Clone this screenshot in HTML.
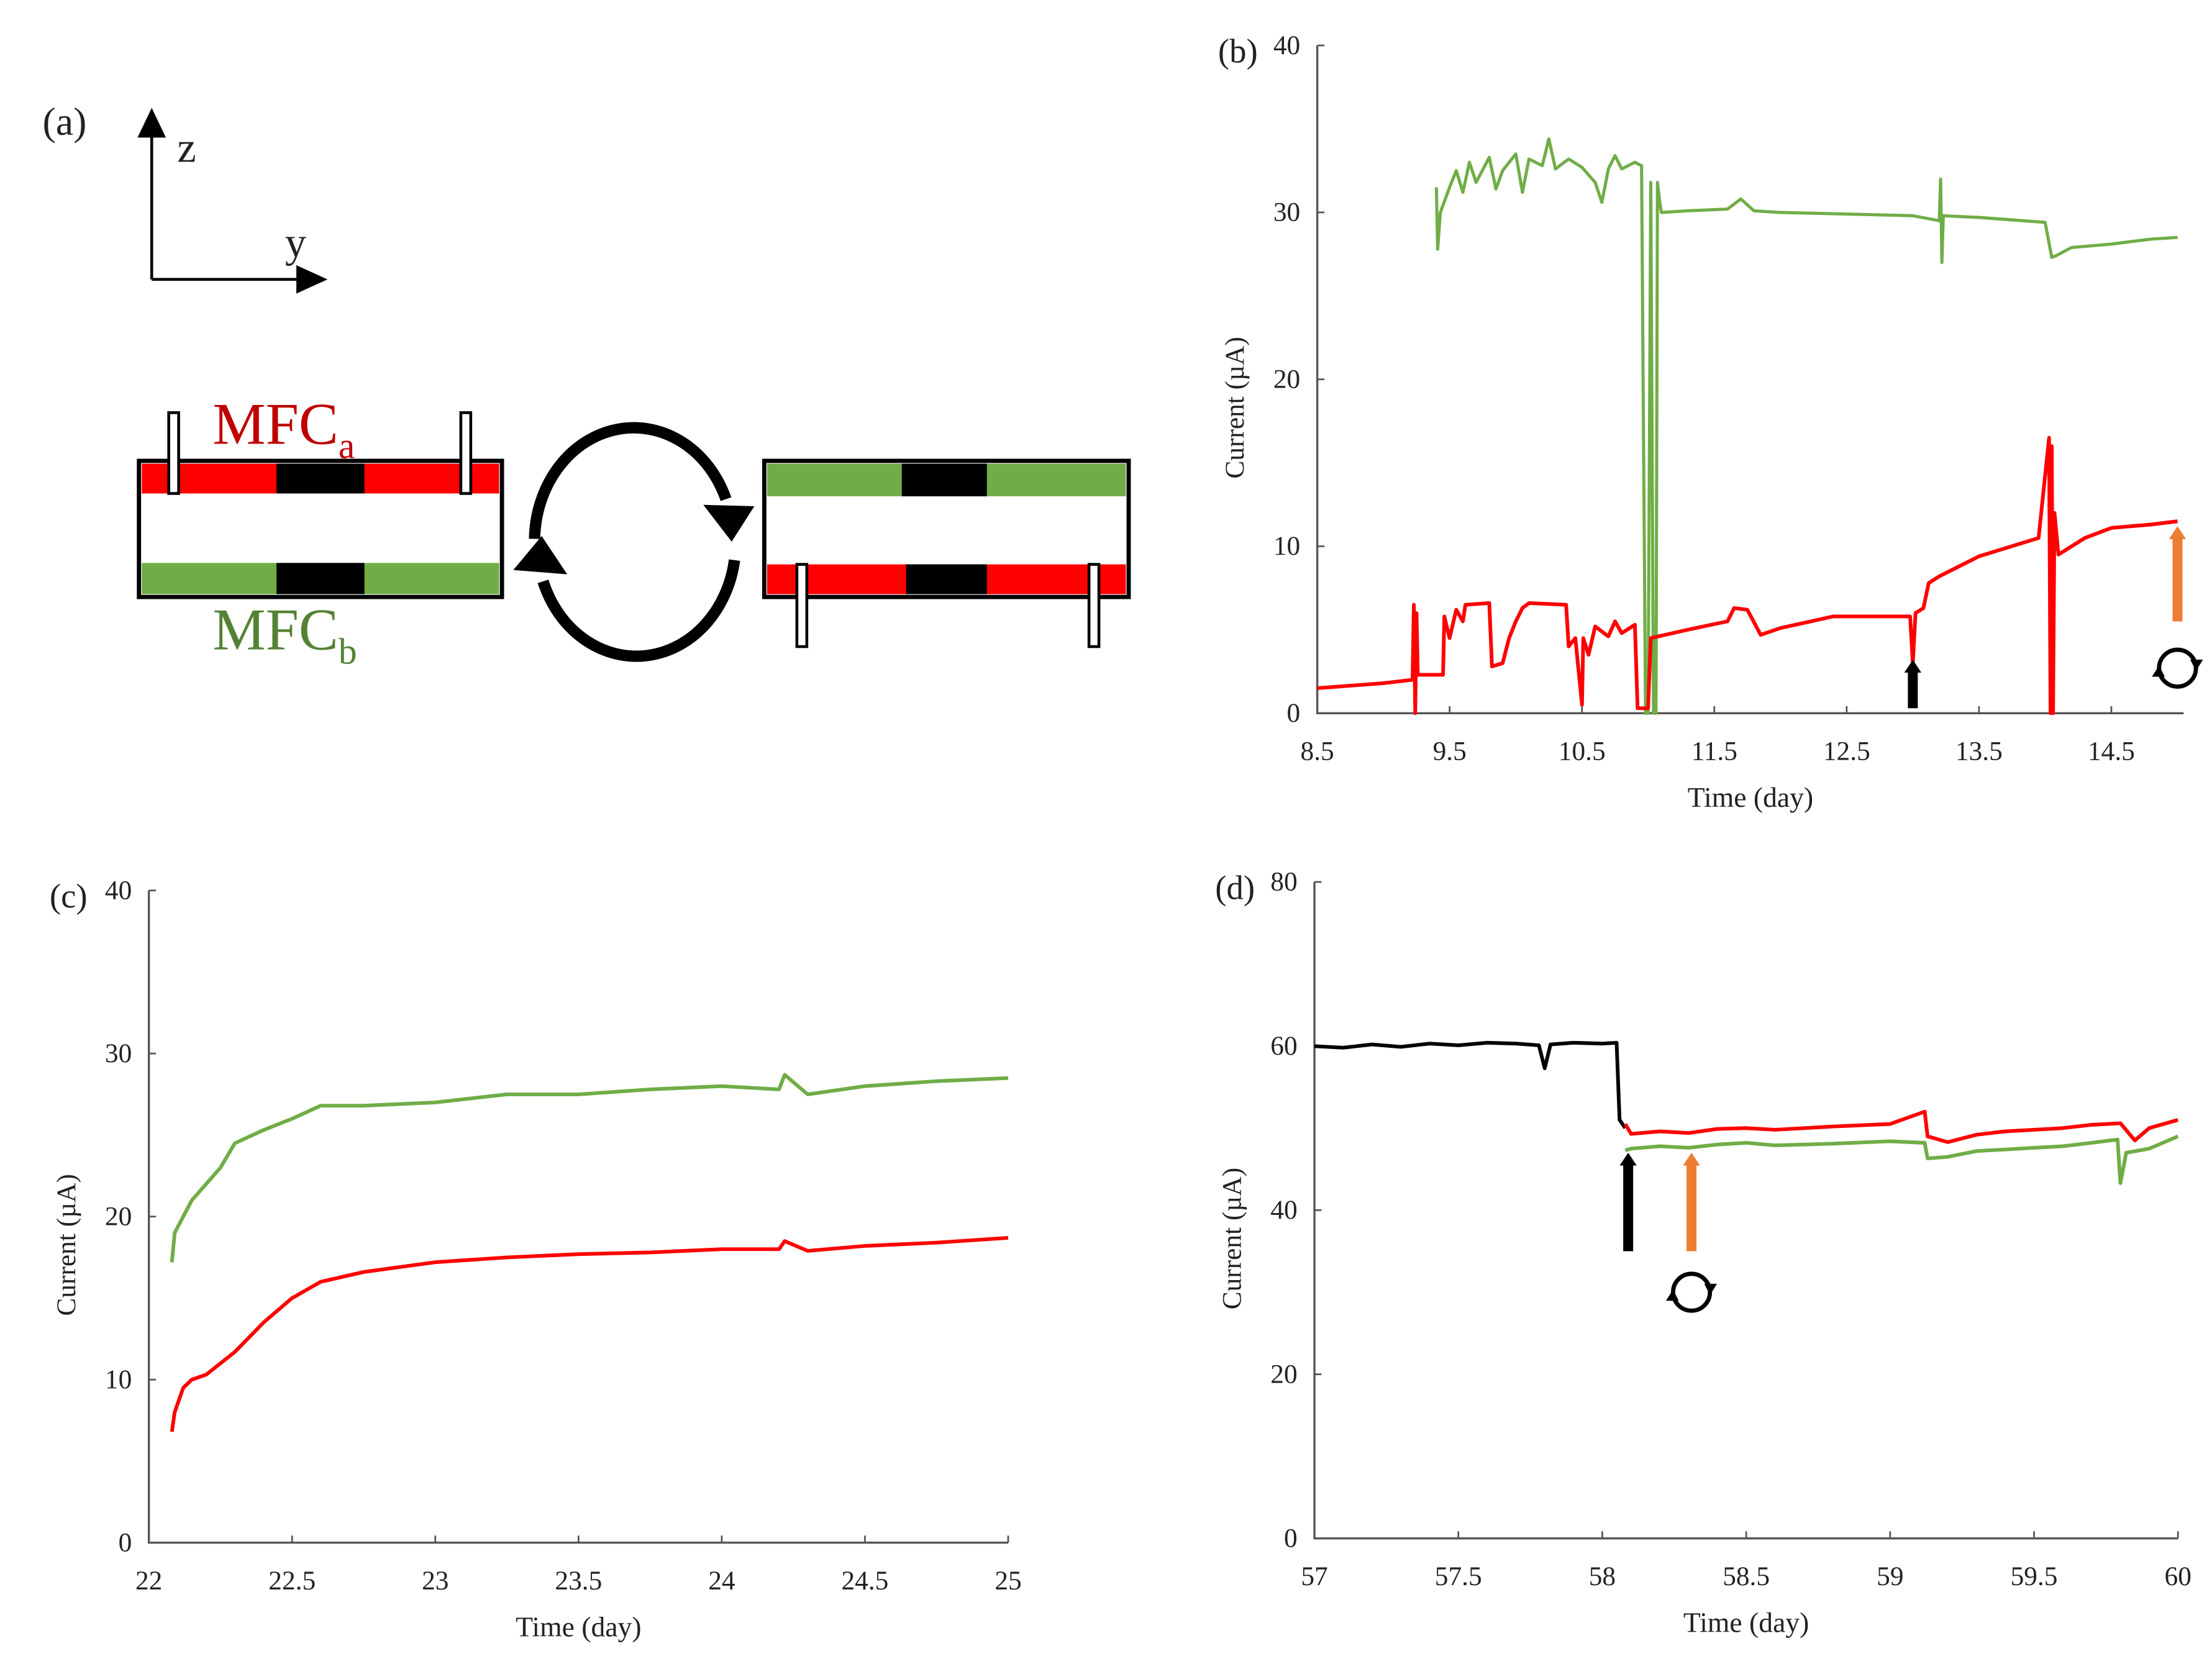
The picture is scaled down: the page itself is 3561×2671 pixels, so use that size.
<!DOCTYPE html>
<html><head><meta charset="utf-8"><style>
html,body{margin:0;padding:0;background:#fff;}
svg{display:block;}
text{font-family:"Liberation Serif",serif;fill:#222;}
</style></head><body>
<svg id="fig" width="3561" height="2671" viewBox="0 0 1560 1170" xmlns="http://www.w3.org/2000/svg">
<g id="pa">
 <text x="30" y="95" font-size="28">(a)</text>
 <line x1="107" y1="197" x2="107" y2="92" stroke="#000" stroke-width="2"/>
 <polygon points="97,97 117,97 107,76" fill="#000"/>
 <text x="125" y="114" font-size="30">z</text>
 <line x1="107" y1="197" x2="214" y2="197" stroke="#000" stroke-width="2"/>
 <polygon points="209,187 209,207 231,197" fill="#000"/>
 <text x="201" y="181" font-size="30">y</text>
 <g>
  <rect x="98" y="325" width="256" height="96" fill="#fff" stroke="#000" stroke-width="3"/>
  <rect x="100" y="327" width="252" height="21" fill="#ff0000"/>
  <rect x="195" y="327" width="62" height="21" fill="#000"/>
  <rect x="100" y="397" width="252" height="22" fill="#70ad47"/>
  <rect x="195" y="397" width="62" height="22" fill="#000"/>
  <rect x="119" y="291" width="7" height="57" fill="#fff" stroke="#000" stroke-width="2"/>
  <rect x="325" y="291" width="7" height="57" fill="#fff" stroke="#000" stroke-width="2"/>
 </g>
 <text x="150" y="313" font-size="42" fill="#c00000" style="fill:#c00000">MFC<tspan font-size="26" dy="10">a</tspan></text>
 <text x="150" y="458" font-size="42" style="fill:#548235">MFC<tspan font-size="26" dy="10">b</tspan></text>
 <g>
  <path d="M377,380 A70,80 0 0 1 512,352" fill="none" stroke="#000" stroke-width="8"/>
  <polygon points="496,356 532,357 516,382" fill="#000"/>
  <path d="M518,395 A70,80 0 0 1 383,410" fill="none" stroke="#000" stroke-width="8"/>
  <polygon points="362,402 400,405 382,378" fill="#000"/>
 </g>
 <g>
  <rect x="539" y="325" width="257" height="96" fill="#fff" stroke="#000" stroke-width="3"/>
  <rect x="541" y="327" width="253" height="23" fill="#70ad47"/>
  <rect x="636" y="327" width="60" height="23" fill="#000"/>
  <rect x="541" y="398" width="253" height="21" fill="#ff0000"/>
  <rect x="639" y="398" width="57" height="21" fill="#000"/>
  <rect x="562" y="398" width="7" height="58" fill="#fff" stroke="#000" stroke-width="2"/>
  <rect x="768" y="398" width="7" height="58" fill="#fff" stroke="#000" stroke-width="2"/>
 </g>
</g>
<g id="pb"></g><g id="pc"></g><g id="pd"></g>
</svg>
<script>
// Panel b data
const bRedX=[8.5,9.0,9.22,9.23,9.24,9.25,9.26,9.45,9.46,9.5,9.55,9.6,9.62,9.8,9.82,9.9,9.95,10.0,10.05,10.1,10.38,10.4,10.45,10.5,10.51,10.55,10.6,10.7,10.75,10.8,10.9,10.92,11.0,11.02,11.3,11.6,11.65,11.75,11.85,12.0,12.4,12.98,13.0,13.02,13.08,13.12,13.2,13.5,13.95,14.03,14.04,14.05,14.06,14.07,14.1,14.3,14.5,14.8,15.0];
const bRedY=[1.5,1.8,2.0,6.5,0,6,2.3,2.3,5.8,4.5,6.2,5.5,6.5,6.6,2.8,3.0,4.5,5.5,6.3,6.6,6.5,4.0,4.5,0.5,4.5,3.5,5.2,4.6,5.5,4.8,5.3,0.3,0.3,4.5,5.0,5.5,6.3,6.2,4.7,5.1,5.8,5.8,3.0,6.0,6.3,7.8,8.2,9.4,10.5,16.5,0,16,0,12,9.5,10.5,11.1,11.3,11.5];
const bGreenX=[9.4,9.41,9.43,9.5,9.55,9.6,9.65,9.7,9.8,9.85,9.9,10.0,10.05,10.1,10.2,10.25,10.3,10.4,10.5,10.6,10.65,10.7,10.75,10.8,10.9,10.95,10.98,11.0,11.02,11.04,11.06,11.07,11.09,11.1,11.3,11.6,11.7,11.8,12.0,12.5,13.0,13.2,13.21,13.22,13.23,13.5,14.0,14.05,14.08,14.2,14.5,14.8,15.0];
const bGreenY=[31.5,27.8,30,31.5,32.5,31.2,33,31.8,33.3,31.4,32.5,33.5,31.2,33.2,32.8,34.4,32.6,33.2,32.7,31.8,30.6,32.6,33.4,32.6,33,32.8,0,0,31.8,0,0,31.8,30.5,30,30.1,30.2,30.8,30.1,30,29.9,29.8,29.5,32,27,29.8,29.7,29.4,27.3,27.4,27.9,28.1,28.4,28.5];
const bXTicks=[8.5,9.5,10.5,11.5,12.5,13.5,14.5];
const bYTicks=[0,10,20,30,40];
// Panel c data
const cX=[22.08,22.09,22.12,22.15,22.2,22.25,22.3,22.4,22.5,22.6,22.75,23,23.25,23.5,23.75,24,24.2,24.22,24.3,24.5,24.75,25];
const cGreenY=[17.2,19,20,21,22,23,24.5,25.3,26,26.8,26.8,27,27.5,27.5,27.8,28,27.8,28.7,27.5,28,28.3,28.5];
const cRedY=[6.8,8,9.5,10,10.3,11,11.7,13.5,15,16,16.6,17.2,17.5,17.7,17.8,18,18,18.5,17.9,18.2,18.4,18.7];
const cXTicks=[22,22.5,23,23.5,24,24.5,25];
const cYTicks=[0,10,20,30,40];
// Panel d data
const dBlackX=[57,57.1,57.2,57.3,57.4,57.5,57.6,57.7,57.78,57.8,57.82,57.9,58.0,58.05,58.06,58.08];
const dBlackY=[60,59.8,60.2,59.9,60.3,60.1,60.4,60.3,60.1,57.3,60.2,60.4,60.3,60.4,51,50];
const dRedX=[58.08,58.1,58.2,58.3,58.4,58.5,58.6,58.8,59.0,59.12,59.13,59.2,59.3,59.4,59.5,59.6,59.7,59.8,59.85,59.9,60.0];
const dRedY=[50.5,49.3,49.6,49.4,49.9,50,49.8,50.2,50.5,52,49,48.3,49.2,49.6,49.8,50,50.4,50.6,48.5,50,51];
const dGreenX=[58.08,58.1,58.2,58.3,58.4,58.5,58.6,58.8,59.0,59.12,59.13,59.2,59.3,59.4,59.5,59.6,59.7,59.79,59.8,59.82,59.9,60.0];
const dGreenY=[47.3,47.5,47.8,47.6,48,48.2,47.9,48.1,48.4,48.2,46.3,46.5,47.2,47.4,47.6,47.8,48.2,48.6,43.3,47,47.5,49];
const dXTicks=[57,57.5,58,58.5,59,59.5,60];
const dYTicks=[0,20,40,60,80];

const NS="http://www.w3.org/2000/svg";
function mk(parent,tag,attrs){const e=document.createElementNS(NS,tag);for(const k in attrs)e.setAttribute(k,attrs[k]);parent.appendChild(e);return e;}
function panel(g,o){
 const sx=v=>o.x0+(v-o.xmin)/(o.xmax-o.xmin)*(o.x1-o.x0);
 const sy=v=>o.y0-(v-o.ymin)/(o.ymax-o.ymin)*(o.y0-o.y1);
 const ax=mk(g,'path',{d:`M${o.x0},${o.y1} V${o.y0} H${o.xend}`,fill:'none',stroke:'#555','stroke-width':1.5});
 
 
 o.xt.forEach(t=>{mk(g,'line',{x1:sx(t),x2:sx(t),y1:o.y0,y2:o.y0-5,stroke:'#555','stroke-width':1.2});
  const tx=mk(g,'text',{x:sx(t),y:o.y0+33,'font-size':19,'text-anchor':'middle'});tx.textContent=t;
  
  });
 o.yt.forEach(t=>{mk(g,'line',{x1:o.x0,x2:o.x0+5,y1:sy(t),y2:sy(t),stroke:'#555','stroke-width':1.2});
  const tx=mk(g,'text',{x:o.x0-12,y:sy(t)+6,'font-size':19,'text-anchor':'end'});tx.textContent=t;
  
  });
 const lb=mk(g,'text',{x:o.x0-70,y:o.y1+12,'font-size':24});lb.textContent=o.label;
 
 
 const xl=mk(g,'text',{x:(o.x0+o.xend)/2,y:o.y0+66,'font-size':20,'text-anchor':'middle'});xl.textContent=o.xlabel;
 
 
 const ym=(o.y0+o.y1)/2+20;
 const yl=mk(g,'text',{x:o.x0-52,y:ym,'font-size':19,'text-anchor':'middle',transform:`rotate(-90 ${o.x0-52} ${ym})`});yl.textContent='Current (µA)';
 
 
 o.series.forEach(s=>{
  const d=s.x.map((v,i)=>(i?'L':'M')+sx(v).toFixed(1)+','+sy(s.y[i]).toFixed(1)).join(' ');
  const p=mk(g,'path',{d:d,fill:'none',stroke:s.c,'stroke-width':s.w||2.6,'stroke-linejoin':'round'});
  
  
 });
 return {sx,sy};
}
function arrow(g,x,yb,yt,c,name){
 mk(g,'rect',{x:x-3.5,y:yt+8,width:7,height:yb-yt-8,fill:c});
 const p=mk(g,'polygon',{points:`${x-6},${yt+9} ${x+6},${yt+9} ${x},${yt}`,fill:c});
 
 
}
function rot(g,x,y){
 const c=mk(g,'circle',{cx:x,cy:y,r:13,fill:'none',stroke:'#000','stroke-width':3});
 
 
 mk(g,'polygon',{points:`${x+9},${y-6} ${x+18},${y-6} ${x+13},${y+2}`,fill:'#000'});
 mk(g,'polygon',{points:`${x-9},${y+6} ${x-18},${y+6} ${x-13},${y-2}`,fill:'#000'});
}
const gb=document.getElementById('pb');


const B=panel(gb,{id:'b',label:'(b)',x0:929,x1:1489,xmin:8.5,xmax:14.5,xend:1540,y0:503,y1:32,ymin:0,ymax:40,xt:bXTicks,yt:bYTicks,xlabel:'Time (day)',
 series:[{x:bGreenX,y:bGreenY,c:'#70ad47',name:'mfc-b-series',w:2.2},{x:bRedX,y:bRedY,c:'#ff0000',name:'mfc-a-series'}]});
arrow(gb,B.sx(13.0),B.sy(0.3),B.sy(3.2),'#000','black-arrow');
arrow(gb,B.sx(15.0),B.sy(5.5),B.sy(11.2),'#ed7d31','orange-arrow');
rot(gb,B.sx(15.0),B.sy(2.7));
const gc=document.getElementById('pc');


panel(gc,{id:'c',label:'(c)',x0:105,x1:711,xmin:22,xmax:25,xend:711,y0:1088,y1:628,ymin:0,ymax:40,xt:cXTicks,yt:cYTicks,xlabel:'Time (day)',
 series:[{x:cX,y:cGreenY,c:'#70ad47',name:'mfc-b-series'},{x:cX,y:cRedY,c:'#ff0000',name:'mfc-a-series'}]});
const gd=document.getElementById('pd');


const D=panel(gd,{id:'d',label:'(d)',x0:927,x1:1536,xmin:57,xmax:60,xend:1536,y0:1085,y1:622,ymin:0,ymax:80,xt:dXTicks,yt:dYTicks,xlabel:'Time (day)',
 series:[{x:dBlackX,y:dBlackY,c:'#000',name:'combined-series'},{x:dGreenX,y:dGreenY,c:'#70ad47',name:'mfc-b-series'},{x:dRedX,y:dRedY,c:'#ff0000',name:'mfc-a-series'}]});
arrow(gd,D.sx(58.09),D.sy(35),D.sy(47),'#000','black-arrow');
arrow(gd,D.sx(58.31),D.sy(35),D.sy(47),'#ed7d31','orange-arrow');
rot(gd,D.sx(58.31),D.sy(30));
</script>
</body></html>
